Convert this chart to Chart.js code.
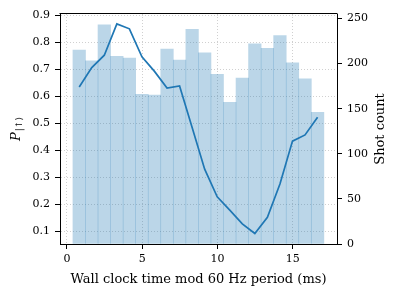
<!DOCTYPE html>
<html>
<head>
<meta charset="utf-8">
<script src="https://cdn.jsdelivr.net/npm/chart.js@4.4.1/dist/chart.umd.min.js"></script>
<style>
  html, body { margin: 0; padding: 0; background: #fff; }
  #wrap { width: 399px; height: 299px; }
</style>
</head>
<body>
<div id="wrap"><canvas id="c" width="399" height="299"></canvas></div>
<script>
// bin centres (ms)
const binCenters = [0.817, 1.650, 2.483, 3.317, 4.150, 4.983, 5.817, 6.650, 7.483, 8.317,
                    9.150, 9.983, 10.817, 11.650, 12.483, 13.317, 14.150, 14.983, 15.817, 16.650];
// shot counts per bin (right axis)
const shotCounts = [215, 203, 243, 208, 206, 166, 165, 216, 204, 238,
                    212, 188, 157, 184, 222, 217, 231, 201, 183, 146];
// P(|up>) per bin (left axis)
const pUp = [0.635, 0.707, 0.753, 0.869, 0.851, 0.747, 0.693, 0.631, 0.639, 0.485,
             0.330, 0.227, 0.178, 0.127, 0.091, 0.151, 0.275, 0.434, 0.457, 0.523];
const xTicks = [0, 5, 10, 15];
const leftTicks = [0.1, 0.2, 0.3, 0.4, 0.5, 0.6, 0.7, 0.8, 0.9];
const rightTicks = [0, 50, 100, 150, 200, 250];

const xLabel = 'Wall clock time mod 60 Hz period (ms)';
const yLabelMain = 'P';
const yLabelSub = '|\u2191\u27E9';
const y1Label = 'Shot count';

const SERIF = '"DejaVu Serif", "Liberation Serif", serif';
const C0 = '#1f77b4';
const GRID = 'rgba(176,176,176,0.75)';

const framePlugin = {
  id: 'frameAndTitles',
  afterDatasetsDraw(chart) {
    const { ctx, chartArea: a } = chart;
    ctx.save();
    ctx.setLineDash([]);
    ctx.strokeStyle = '#000';
    ctx.lineWidth = 1;
    const t = Math.round(a.top) - 0.5;
    ctx.beginPath();
    ctx.moveTo(a.left - 0.5, t);
    ctx.lineTo(a.right + 0.5, t);
    ctx.stroke();
    ctx.restore();
  },
  afterDraw(chart) {
    const { ctx, chartArea: a } = chart;
    const cy = (a.top + a.bottom) / 2;
    // left title P_{|up>}
    ctx.save();
    ctx.setLineDash([]);
    ctx.translate(17, cy);
    ctx.rotate(-Math.PI / 2);
    ctx.fillStyle = '#000';
    ctx.textBaseline = 'middle';
    ctx.textAlign = 'left';
    ctx.font = 'italic 13px ' + SERIF;
    const pW = ctx.measureText(yLabelMain).width;
    ctx.font = '9px ' + SERIF;
    const sW = ctx.measureText(yLabelSub).width;
    const total = pW + sW + 1;
    ctx.font = 'italic 13px ' + SERIF;
    ctx.fillText(yLabelMain, -total / 2, 0);
    ctx.font = '9px ' + SERIF;
    ctx.fillText(yLabelSub, -total / 2 + pW + 1, 3);
    ctx.restore();
    // right title
    ctx.save();
    ctx.translate(381, cy);
    ctx.rotate(-Math.PI / 2);
    ctx.fillStyle = '#000';
    ctx.textBaseline = 'middle';
    ctx.textAlign = 'center';
    ctx.font = '13px ' + SERIF;
    ctx.fillText(y1Label, 0, 0);
    ctx.restore();
  }
};

new Chart(document.getElementById('c'), {
  type: 'bar',
  data: {
    datasets: [
      {
        type: 'line',
        label: 'P',
        data: binCenters.map((x, i) => ({ x: x, y: pUp[i] })),
        yAxisID: 'y',
        borderColor: C0,
        borderWidth: 1.7,
        pointRadius: 0,
        tension: 0,
        fill: false,
        order: 1
      },
      {
        type: 'bar',
        label: 'Shot count',
        data: binCenters.map((x, i) => ({ x: x, y: shotCounts[i] })),
        yAxisID: 'y1',
        backgroundColor: 'rgba(31,119,180,0.3)',
        borderWidth: 0,
        barPercentage: 1.0,
        categoryPercentage: 1.0,
        order: 2
      }
    ]
  },
  options: {
    responsive: false,
    animation: false,
    devicePixelRatio: 1,
    layout: { padding: { top: 14, left: 0, right: 0, bottom: 0 } },
    plugins: { legend: { display: false }, tooltip: { enabled: false } },
    scales: {
      x: {
        type: 'linear',
        min: -0.46,
        max: 17.94,
        offset: false,
        afterFit(s) { s.height = 55; },
        afterBuildTicks(s) { s.ticks = xTicks.map(v => ({ value: v })); },
        ticks: {
          color: '#000',
          font: { family: SERIF, size: 11 },
          padding: 4,
          maxRotation: 0,
          callback: v => String(v)
        },
        grid: {
          offset: false,
          color: GRID,
          lineWidth: 0.8,
          drawTicks: true,
          tickLength: 5,
          tickColor: '#000',
          tickWidth: 1
        },
        border: { display: true, color: '#000', width: 1, dash: [1, 2] },
        title: {
          display: true,
          text: xLabel,
          color: '#000',
          font: { family: SERIF, size: 13 },
          padding: { top: 0, bottom: 12 }
        }
      },
      y: {
        type: 'linear',
        position: 'left',
        min: 0.052,
        max: 0.906,
        afterFit(s) { s.width = 60; },
        afterBuildTicks(s) { s.ticks = leftTicks.map(v => ({ value: v })); },
        ticks: {
          color: '#000',
          font: { family: SERIF, size: 11 },
          padding: 5,
          callback: v => Number(v).toFixed(1)
        },
        grid: {
          offset: false,
          color: GRID,
          lineWidth: 0.8,
          drawTicks: true,
          tickLength: 5,
          tickColor: '#000',
          tickWidth: 1
        },
        border: { display: true, color: '#000', width: 1, dash: [1, 2] }
      },
      y1: {
        type: 'linear',
        position: 'right',
        min: 0,
        max: 255,
        afterFit(s) { s.width = 62; },
        afterBuildTicks(s) { s.ticks = rightTicks.map(v => ({ value: v })); },
        ticks: {
          color: '#000',
          font: { family: SERIF, size: 11 },
          padding: 5,
          callback: v => String(v)
        },
        grid: {
          offset: false,
          drawOnChartArea: false,
          drawTicks: true,
          tickLength: 5,
          tickColor: '#000',
          tickWidth: 1
        },
        border: { display: true, color: '#000', width: 1 }
      }
    }
  },
  plugins: [framePlugin]
});
</script>
</body>
</html>
